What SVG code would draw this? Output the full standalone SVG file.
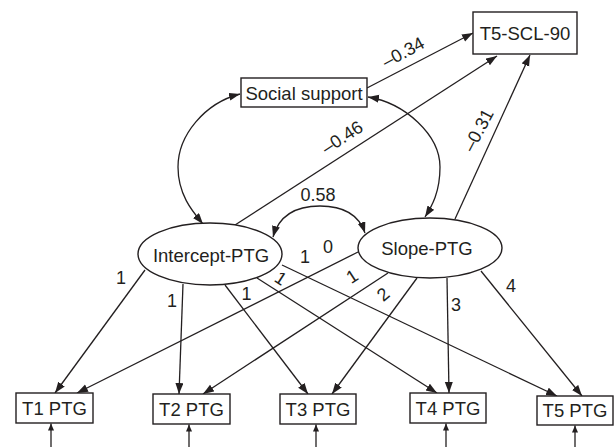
<svg xmlns="http://www.w3.org/2000/svg" width="614" height="447" viewBox="0 0 614 447">
<style>
  .box { fill: #fff; stroke: #231f20; stroke-width: 1.4; }
  .ell { fill: #fff; stroke: #231f20; stroke-width: 1.4; }
  .t { font-family: "Liberation Sans", Arial, sans-serif; font-size: 18.5px; fill: #231f20; text-anchor: middle; }
  .lbl { font-family: "Liberation Sans", Arial, sans-serif; font-size: 18px; fill: #231f20; text-anchor: middle; }
  .c { fill: none; stroke: #231f20; stroke-width: 1.3; }
</style>
<defs>
  <marker id="ah" markerUnits="userSpaceOnUse" markerWidth="12" markerHeight="9" refX="11" refY="4" orient="auto-start-reverse">
    <path d="M0,0 L11,4 L0,8 z" fill="#231f20"/>
  </marker>
  <marker id="sm" markerUnits="userSpaceOnUse" markerWidth="8" markerHeight="7" refX="7" refY="3" orient="auto">
    <path d="M0,0 L7,3 L0,6 z" fill="#231f20"/>
  </marker>
</defs>
<rect width="614" height="447" fill="#fff"/>
<g id="connectors">
  <!-- regressions on T5-SCL-90 -->
  <line class="c" x1="367" y1="88" x2="473" y2="33" marker-end="url(#ah)"/>
  <line class="c" x1="235" y1="225" x2="497" y2="56" marker-end="url(#ah)"/>
  <line class="c" x1="455" y1="219" x2="530" y2="55" marker-end="url(#ah)"/>
  <!-- covariances -->
  <path class="c" d="M240,94 C205,103 178,135 178,167 C178,195 193,212 203,224" marker-start="url(#ah)" marker-end="url(#ah)"/>
  <path class="c" d="M368,97 C405,103 440,135 440,167 C440,192 432,206 425,217" marker-start="url(#ah)" marker-end="url(#ah)"/>
  <path class="c" d="M273,237 C280,212 300,206 320,206 C340,206 358,212 365,233" marker-start="url(#ah)" marker-end="url(#ah)"/>
  <!-- intercept loadings -->
  <line class="c" x1="145" y1="270" x2="55" y2="393" marker-end="url(#ah)"/>
  <line class="c" x1="183" y1="284" x2="179" y2="394" marker-end="url(#ah)"/>
  <line class="c" x1="225" y1="285" x2="308" y2="394" marker-end="url(#ah)"/>
  <line class="c" x1="257" y1="278" x2="437" y2="393" marker-end="url(#ah)"/>
  <line class="c" x1="282" y1="265" x2="557" y2="396" marker-end="url(#ah)"/>
  <!-- slope loadings -->
  <line class="c" x1="358" y1="252" x2="77" y2="393" marker-end="url(#ah)"/>
  <line class="c" x1="388" y1="273" x2="203" y2="394" marker-end="url(#ah)"/>
  <line class="c" x1="417" y1="278" x2="332" y2="394" marker-end="url(#ah)"/>
  <line class="c" x1="447" y1="278" x2="449" y2="393" marker-end="url(#ah)"/>
  <line class="c" x1="481" y1="271" x2="582" y2="396" marker-end="url(#ah)"/>
  <!-- residual arrows -->
  <line class="c" x1="51" y1="447" x2="51" y2="423.5" marker-end="url(#sm)"/>
  <line class="c" x1="189" y1="447" x2="189" y2="424.5" marker-end="url(#sm)"/>
  <line class="c" x1="316" y1="447" x2="316" y2="424.5" marker-end="url(#sm)"/>
  <line class="c" x1="446" y1="447" x2="446" y2="423.5" marker-end="url(#sm)"/>
  <line class="c" x1="575" y1="447" x2="575" y2="425.5" marker-end="url(#sm)"/>
  <!-- labels -->
  <text class="lbl" transform="translate(403,52) rotate(-28)" y="6.5">–0.34</text>
  <text class="lbl" transform="translate(342,137) rotate(-33)" y="6.5">–0.46</text>
  <text class="lbl" transform="translate(478,130) rotate(-62)" y="6.5">–0.31</text>
  <text class="lbl" x="318" y="201">0.58</text>
  <text class="lbl" x="121" y="284">1</text>
  <text class="lbl" x="172" y="307">1</text>
  <text class="lbl" x="246.5" y="300">1</text>
  <text class="lbl" transform="translate(281,278) rotate(33)" y="6.5">1</text>
  <text class="lbl" x="305" y="262.5">1</text>
  <text class="lbl" x="328" y="253">0</text>
  <text class="lbl" transform="translate(352,276) rotate(-33)" y="6.5">1</text>
  <text class="lbl" transform="translate(383,294) rotate(-40)" y="6.5">2</text>
  <text class="lbl" x="456" y="310.5">3</text>
  <text class="lbl" x="511" y="291.5">4</text>
</g>
<g id="t5scl90"><rect class="box" x="473" y="12" width="104" height="42"/><text class="t" x="525" y="40">T5-SCL-90</text></g>
<g id="social"><rect class="box" x="241" y="78" width="126" height="29"/><text class="t" x="304" y="99.5">Social support</text></g>
<g id="intercept"><ellipse class="ell" cx="210" cy="254" rx="72" ry="31"/><text class="t" x="211" y="262">Intercept-PTG</text></g>
<g id="slope"><ellipse class="ell" cx="430" cy="248" rx="72" ry="30"/><text class="t" x="427" y="255">Slope-PTG</text></g>
<g id="t1"><rect class="box" x="16" y="393" width="77" height="30"/><text class="t" x="54.5" y="415">T1 PTG</text></g>
<g id="t2"><rect class="box" x="153" y="394" width="77" height="30"/><text class="t" x="191.5" y="416">T2 PTG</text></g>
<g id="t3"><rect class="box" x="280" y="394" width="76" height="30"/><text class="t" x="318" y="416">T3 PTG</text></g>
<g id="t4"><rect class="box" x="410" y="393" width="76" height="30"/><text class="t" x="448" y="415">T4 PTG</text></g>
<g id="t5"><rect class="box" x="537" y="396" width="76" height="29"/><text class="t" x="575" y="417">T5 PTG</text></g>
</svg>
